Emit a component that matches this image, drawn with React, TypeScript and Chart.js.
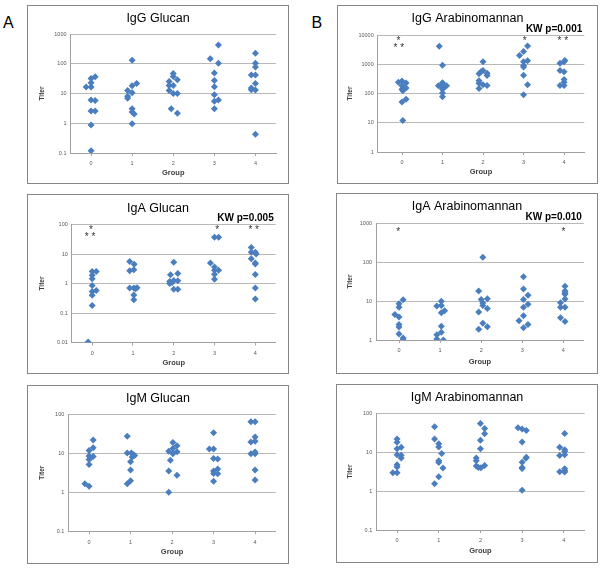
import React, { useEffect, useRef } from 'react';
import { Chart, registerables } from 'chart.js';

Chart.register(...registerables);

const FONT = '"Liberation Sans", Arial, Helvetica, sans-serif';

// Groups on the x axis
const groupValues = [0, 1, 2, 3, 4];
const groupLabels = ['0', '1', '2', '3', '4'];

// Y tick values / labels
const ticksIgGGlucan = [0.1, 1, 10, 100, 1000];
const labelsIgGGlucan = ['0.1', '1', '10', '100', '1000'];
const ticksIgGAm = [1, 10, 100, 1000, 10000];
const labelsIgGAm = ['1', '10', '100', '1000', '10000'];
const ticksIgAGlucan = [0.01, 0.1, 1, 10, 100];
const labelsIgAGlucan = ['0.01', '0.1', '1', '10', '100'];
const ticksIgAAm = [1, 10, 100, 1000];
const labelsIgAAm = ['1', '10', '100', '1000'];
const ticksIgM = [0.1, 1, 10, 100];
const labelsIgM = ['0.1', '1', '10', '100'];

type Pair = [number, number]; // [horizontal jitter within group, titer]

// IgG Glucan, groups 0..4
const iggGlucan: Pair[][] = [
  [[-0.12, 16.4], [0, 16.4], [0, 23], [0, 32], [0.1, 36.5], [0, 6.1], [0.1, 5.8], [0, 2.6], [0.1, 2.6], [0, 0.87], [0, 0.118]],
  [[0, 130], [0.11, 21.8], [0, 18.2], [-0.11, 12.6], [0, 10.5], [-0.11, 8.1], [-0.11, 6.95], [0, 3.1], [0, 2.4], [0.05, 2.05], [0, 0.97]],
  [[0, 47], [0, 37.6], [-0.1, 25.5], [0.1, 29], [-0.1, 18.6], [0, 18.6], [-0.1, 12.6], [0, 10], [0.1, 10], [-0.05, 3.1], [0.1, 2.16]],
  [[0.1, 430], [-0.1, 148], [0.1, 103], [0, 48.6], [0, 27.5], [0, 16.8], [0, 9], [0, 5.5], [0.1, 6.1], [0, 3.1]],
  [[0, 224], [0, 103], [0, 77.6], [-0.1, 41.6], [0, 41.6], [0, 21.8], [-0.1, 15.2], [-0.1, 13.3], [0, 13], [0, 0.43]],
];

// IgG Arabinomannan
const iggAm: Pair[][] = [
  [[-0.09, 244], [0, 270], [0.1, 230], [0, 185], [0.1, 155], [0, 140], [0.02, 125], [0.1, 64], [0, 51], [0.02, 12]],
  [[-0.08, 4100], [0, 930], [0, 235], [0, 200], [-0.1, 185], [-0.05, 180], [0.1, 185], [0.05, 170], [0, 140], [0, 105], [0, 78]],
  [[0, 1210], [0, 615], [-0.05, 553], [-0.1, 470], [0.1, 497], [0.1, 414], [-0.1, 272], [-0.1, 226], [0, 198], [-0.1, 148], [0.1, 188]],
  [[0.1, 4190], [0, 2750], [-0.1, 2000], [0.1, 1310], [0, 1210], [0, 910], [0, 800], [0, 424], [0.1, 198], [0, 90]],
  [[-0.1, 1090], [0, 1210], [0.02, 1350], [-0.1, 615], [0, 553], [0, 302], [0, 244], [-0.1, 188], [0, 188]],
];

// IgA Glucan
const igaGlucan: Pair[][] = [
  [[0, 2.55], [0.1, 2.55], [0, 1.9], [0, 1.44], [0, 0.86], [0.1, 0.58], [0, 0.54], [0, 0.4], [0, 0.18], [-0.1, 0.0103]],
  [[-0.08, 5.6], [0.03, 4.5], [-0.08, 2.7], [0.02, 2.9], [-0.08, 0.7], [0.02, 0.7], [0.1, 0.72], [0.06, 0.66], [0.02, 0.41], [0.02, 0.28]],
  [[0, 5.3], [-0.08, 1.97], [0.1, 2.18], [0, 1.26], [-0.1, 1.17], [0.1, 1.23], [-0.04, 1.08], [-0.1, 1.0], [0, 0.64], [0.1, 0.64]],
  [[0, 37], [0.1, 37], [-0.1, 5], [0, 3.6], [0, 2.8], [0.1, 2.8], [0, 2.07], [0, 1.4]],
  [[-0.1, 16.6], [-0.1, 11.5], [0, 11.5], [0.02, 10], [-0.1, 6.9], [0, 5], [0, 4.6], [0, 2], [0, 0.7], [0, 0.3]],
];

// IgA Arabinomannan
const igaAm: Pair[][] = [
  [[0.1, 10.8], [0, 8.5], [0, 6.9], [-0.1, 4.5], [0, 3.9], [0, 2.5], [0, 2.15], [0, 1.43], [0.1, 1.12], [0.1, 1.0]],
  [[0.03, 9.8], [0.03, 7.7], [-0.08, 7.4], [0.11, 5.6], [0.03, 5.0], [0.03, 2.24], [0.03, 1.57], [-0.08, 1.37], [-0.08, 1.06], [0.08, 1.0]],
  [[0.04, 132], [-0.06, 18], [0, 11], [0.15, 11.5], [0.04, 8.9], [0.04, 7.7], [0.15, 6.4], [-0.06, 5.2], [0.04, 2.7], [0.15, 2.2], [-0.06, 1.9]],
  [[0.03, 42], [0.03, 20.3], [0.03, 11], [0.14, 14], [0.14, 8.2], [0.03, 6.9], [0.03, 4.2], [-0.08, 3.1], [0.14, 2.5], [0.03, 2.07]],
  [[0.04, 24], [0.04, 18], [0.04, 16], [0.04, 15], [0.04, 11.2], [-0.07, 9], [-0.07, 6.9], [0.04, 6.9], [-0.07, 3.7], [0.04, 3.0]],
];

// IgM Glucan
const igmGlucan: Pair[][] = [
  [[0.1, 21.5], [0.1, 13.7], [0, 11.7], [0, 8.4], [0.1, 8.2], [0.04, 7.6], [0, 6.9], [0, 5.1], [-0.1, 1.64], [0, 1.43]],
  [[-0.08, 27], [-0.08, 10], [0.02, 10], [0.1, 8.7], [0.04, 7.9], [0, 6], [0, 3.7], [0, 1.95], [-0.08, 1.64], [0.06, 9.2]],
  [[0.02, 18.8], [0.12, 15.4], [0.02, 13.2], [-0.08, 11.2], [0.12, 10.8], [0.02, 9.6], [-0.04, 6.6], [-0.08, 3.5], [0.12, 2.7], [-0.08, 1.0]],
  [[0, 33], [-0.1, 12.7], [0, 12.7], [0, 7.3], [0.1, 7.1], [0.1, 3.9], [0, 3.5], [0, 3.0], [0.1, 2.95], [0, 1.9]],
  [[-0.1, 63], [0, 63], [0, 25.7], [-0.1, 19.1], [0, 20], [0, 10.6], [-0.1, 9.6], [0, 9.6], [0, 3.7], [0, 2.04]],
];

// IgM Arabinomannan
const igmAm: Pair[][] = [
  [[0, 21.5], [0, 17.7], [0, 12.2], [0.1, 13.2], [0, 8.5], [0.1, 8.2], [0.1, 7.0], [0, 4.7], [0, 4.1], [-0.1, 2.95], [0, 2.95]],
  [[-0.1, 44.7], [-0.1, 21.5], [0, 16.3], [0, 13.4], [0.07, 9.1], [0, 6.0], [0, 5.4], [0.1, 3.9], [0, 2.33], [-0.1, 1.54]],
  [[0, 54], [0.1, 40], [0.1, 29.5], [0, 20], [0, 12.2], [-0.1, 7.0], [-0.1, 6.0], [-0.1, 4.4], [-0.05, 4.0], [0.01, 3.95], [0.1, 4.5]],
  [[-0.1, 42], [0, 39], [0.1, 35.4], [0, 18], [0.1, 7.3], [0.09, 6.9], [0, 5.5], [0, 4.0], [0, 3.8], [0, 1.04]],
  [[0.02, 30], [-0.1, 13.2], [0.02, 11.5], [0.02, 10.4], [0.02, 8.5], [-0.1, 8.1], [0.02, 3.7], [0.02, 3.3], [-0.1, 3.1], [0.02, 3.05]],
];

type Star = { group: number; dx: number; titer: number; text: string };

const starsIgGAm: Star[] = [
  { group: 0, dx: -0.09, titer: 7850, text: '*' },
  { group: 0, dx: -0.08, titer: 4640, text: '* *' },
  { group: 3, dx: 0.03, titer: 7850, text: '*' },
  { group: 4, dx: -0.03, titer: 7850, text: '* *' },
];
const starsIgAGlucan: Star[] = [
  { group: 0, dx: -0.03, titer: 79, text: '*' },
  { group: 0, dx: -0.05, titer: 47, text: '* *' },
  { group: 3, dx: 0.065, titer: 79, text: '*' },
  { group: 4, dx: -0.04, titer: 79, text: '* *' },
];
const starsIgAAm: Star[] = [
  { group: 0, dx: -0.02, titer: 700, text: '*' },
  { group: 4, dx: 0, titer: 700, text: '*' },
];

type PanelCfg = {
  title: string;
  kw?: string;
  data: Pair[][];
  stars: Star[];
  yTicks: number[];
  yLabels: string[];
  xMin: number;
  xMax: number;
  box: { l: number; t: number; w: number; h: number };
  area: { l: number; t: number; r: number; b: number };
  titleCy: number;
  titerX: number;
  groupCy: number;
};

const panels: PanelCfg[] = [
  {
    title: 'IgG Glucan', data: iggGlucan, stars: [], yTicks: ticksIgGGlucan, yLabels: labelsIgGGlucan,
    xMin: -0.5, xMax: 4.5,
    box: { l: 27, t: 5, w: 262, h: 179 }, area: { l: 70.5, t: 34, r: 276, b: 153 },
    titleCy: 19, titerX: 42.7, groupCy: 173,
  },
  {
    title: 'IgG Arabinomannan', kw: 'KW p=0.001', data: iggAm, stars: starsIgGAm, yTicks: ticksIgGAm, yLabels: labelsIgGAm,
    xMin: -0.6, xMax: 4.5,
    box: { l: 337, t: 5, w: 261, h: 179 }, area: { l: 377.7, t: 35, r: 584.3, b: 152 },
    titleCy: 19, titerX: 350.7, groupCy: 172.3,
  },
  {
    title: 'IgA Glucan', kw: 'KW p=0.005', data: igaGlucan, stars: starsIgAGlucan, yTicks: ticksIgAGlucan, yLabels: labelsIgAGlucan,
    xMin: -0.5, xMax: 4.5,
    box: { l: 27, t: 194, w: 262, h: 180 }, area: { l: 71.8, t: 224.5, r: 275.7, b: 342.5 },
    titleCy: 209, titerX: 42.7, groupCy: 362.7,
  },
  {
    title: 'IgA Arabinomannan', kw: 'KW p=0.010', data: igaAm, stars: starsIgAAm, yTicks: ticksIgAAm, yLabels: labelsIgAAm,
    xMin: -0.56, xMax: 4.5,
    box: { l: 336, t: 193, w: 262, h: 181 }, area: { l: 376, t: 223, r: 583.9, b: 340 },
    titleCy: 206.7, titerX: 350, groupCy: 361.7,
  },
  {
    title: 'IgM Glucan', data: igmGlucan, stars: [], yTicks: ticksIgM, yLabels: labelsIgM,
    xMin: -0.5, xMax: 4.5,
    box: { l: 27, t: 385, w: 262, h: 179 }, area: { l: 68.3, t: 414, r: 275.8, b: 531.3 },
    titleCy: 398.3, titerX: 42.7, groupCy: 552.3,
  },
  {
    title: 'IgM Arabinomannan', data: igmAm, stars: [], yTicks: ticksIgM, yLabels: labelsIgM,
    xMin: -0.5, xMax: 4.5,
    box: { l: 336, t: 384, w: 262, h: 179 }, area: { l: 376.2, t: 413, r: 584.7, b: 530 },
    titleCy: 397.3, titerX: 350, groupCy: 550.7,
  },
];

function Panel({ cfg }: { cfg: PanelCfg }) {
  const ref = useRef<HTMLCanvasElement>(null);
  const cx = cfg.box.l + 1;
  const cy = cfg.box.t + 1;
  const cw = cfg.box.w - 2;
  const ch = cfg.box.h - 2;

  useEffect(() => {
    const canvas = ref.current;
    if (!canvas) return;
    const points = cfg.data.flatMap((grp, gi) =>
      grp.map(([dx, v]) => ({ x: groupValues[gi] + dx, y: v }))
    );
    const yAxisW = cfg.area.l - cx;
    const padRight = cx + cw - cfg.area.r;
    const padTop = cfg.area.t - cy;
    const xAxisH = cy + ch - cfg.area.b;
    const titerFont = 6.5;
    const groupFont = 7.5;
    const titerPad = cfg.titerX - cx - (titerFont * 1.2) / 2;
    const groupPad = cy + ch - cfg.groupCy - (groupFont * 1.2) / 2;

    const textPlugin = {
      id: 'panelText',
      afterDraw(chart: any) {
        const ctx = chart.ctx;
        const { chartArea, scales } = chart;
        ctx.save();
        ctx.fillStyle = '#000';
        ctx.font = `12.5px ${FONT}`;
        ctx.textAlign = 'center';
        ctx.textBaseline = 'middle';
        ctx.fillText(cfg.title, chart.width / 2, cfg.titleCy - cy);
        if (cfg.kw) {
          ctx.font = `bold 10px ${FONT}`;
          ctx.textAlign = 'right';
          ctx.fillText(cfg.kw, chartArea.right - 2, chartArea.top - 6);
        }
        ctx.font = `10px ${FONT}`;
        ctx.fillStyle = '#333333';
        ctx.textAlign = 'center';
        ctx.textBaseline = 'alphabetic';
        for (const s of cfg.stars) {
          const x = scales.x.getPixelForValue(groupValues[s.group] + s.dx);
          const y = scales.y.getPixelForValue(s.titer) + 5.8;
          ctx.fillText(s.text, x, y);
        }
        ctx.restore();
      },
    };

    const chart = new Chart(canvas, {
      type: 'scatter',
      data: {
        datasets: [
          {
            data: points,
            pointStyle: 'rectRot',
            pointRadius: 3.5,
            pointBackgroundColor: '#4a7ebf',
            pointBorderWidth: 0,
            pointBorderColor: '#4a7ebf',
          },
        ],
      },
      options: {
        animation: false,
        responsive: false,
        devicePixelRatio: 1,
        layout: { padding: { top: padTop, right: padRight, left: 0, bottom: 0 } },
        plugins: {
          legend: { display: false },
          tooltip: { enabled: false },
          title: { display: false },
        },
        scales: {
          x: {
            type: 'linear',
            min: cfg.xMin,
            max: cfg.xMax,
            afterBuildTicks: (s: any) => {
              s.ticks = groupValues.map((v) => ({ value: v }));
            },
            afterFit: (s: any) => {
              s.height = xAxisH;
            },
            grid: {
              drawOnChartArea: false,
              drawTicks: true,
              tickLength: 3,
              color: '#a6a6a6',
              tickColor: '#a6a6a6',
            },
            border: { color: '#a0a0a0', width: 1 },
            ticks: {
              font: { size: 5.5, family: FONT },
              color: '#595959',
              padding: 4.5,
              autoSkip: false,
              maxRotation: 0,
              callback: (_v: any, i: number) => groupLabels[i],
            },
            title: {
              display: true,
              text: 'Group',
              color: '#404040',
              font: { size: groupFont, weight: 'bold', family: FONT },
              padding: { top: 0, bottom: groupPad },
            },
          },
          y: {
            type: 'logarithmic',
            min: cfg.yTicks[0],
            max: cfg.yTicks[cfg.yTicks.length - 1],
            afterBuildTicks: (s: any) => {
              s.ticks = cfg.yTicks.map((v) => ({ value: v }));
            },
            afterFit: (s: any) => {
              s.width = yAxisW;
            },
            grid: { color: '#b8b8b8', drawTicks: false, lineWidth: 1 },
            border: { color: '#a0a0a0', width: 1 },
            ticks: {
              font: { size: 5.5, family: FONT },
              color: '#595959',
              padding: 4,
              autoSkip: false,
              callback: (_v: any, i: number) => cfg.yLabels[i],
            },
            title: {
              display: true,
              text: 'Titer',
              color: '#404040',
              font: { size: titerFont, weight: 'bold', family: FONT },
              padding: { top: titerPad, bottom: 0 },
            },
          },
        },
      } as any,
      plugins: [textPlugin],
    });
    return () => chart.destroy();
  }, []);

  return (
    <div
      style={{
        position: 'absolute',
        left: cfg.box.l,
        top: cfg.box.t,
        width: cfg.box.w,
        height: cfg.box.h,
        border: '1px solid #868686',
        boxSizing: 'border-box',
        background: '#fff',
      }}
    >
      <canvas ref={ref} width={cw} height={ch} style={{ display: 'block', width: cw, height: ch }} />
    </div>
  );
}

export default function App() {
  return (
    <div
      style={{
        position: 'absolute',
        left: 0,
        top: 0,
        width: 600,
        height: 571,
        background: '#fff',
        fontFamily: FONT,
        overflow: 'hidden',
      }}
    >
      <div style={{ position: 'absolute', left: 3, top: 14.75, fontSize: 16, lineHeight: '16px', color: '#000' }}>A</div>
      <div style={{ position: 'absolute', left: 311.5, top: 14.75, fontSize: 16, lineHeight: '16px', color: '#000' }}>B</div>
      {panels.map((p) => (
        <Panel key={p.title} cfg={p} />
      ))}
    </div>
  );
}
